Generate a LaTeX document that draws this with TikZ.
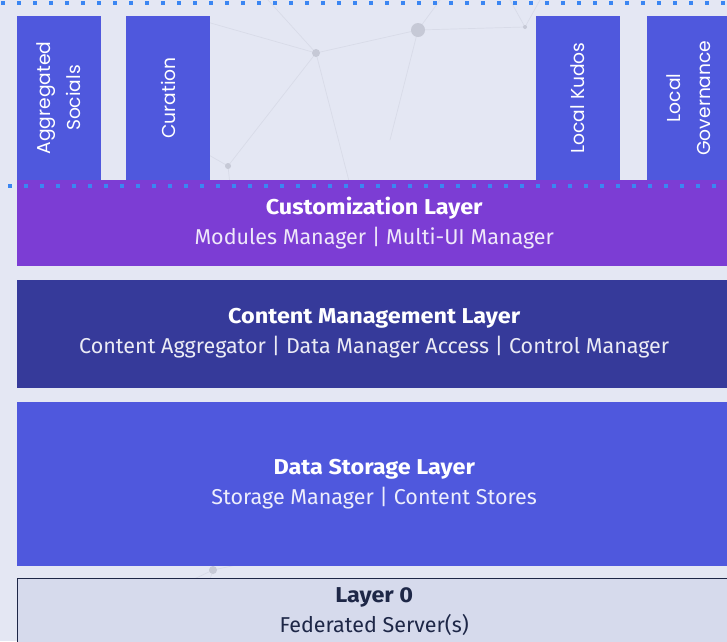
\documentclass[tikz,border=0pt]{standalone}
\usepackage{fontspec}
\setmainfont{Fira Sans}
\newfontfamily\titlefont{Fira Sans}[FakeStretch=1.09]
\newfontfamily\modulefont{Poppins}
\usetikzlibrary{positioning}
\definecolor{pagebg}{HTML}{E4E7F3}
\definecolor{netgrey}{HTML}{D8DBE8}
\definecolor{netdot}{HTML}{C6C9D6}
\definecolor{modblue}{HTML}{4F58DD}
\definecolor{custpurple}{HTML}{7C3DD4}
\definecolor{cmsnavy}{HTML}{363A9A}
\definecolor{zerofill}{HTML}{D6DAEC}
\definecolor{zeroink}{HTML}{1E2747}
\definecolor{dotblue}{HTML}{3B86F2}
\newcommand{\layertitle}[1]{{\titlefont\bfseries #1}}
\tikzset{
  layer/.style={inner sep=0pt, minimum width=714pt, align=center,
    text=white, font=\fontsize{21.5}{30}\selectfont},
  module/.style={rotate=90, fill=modblue, inner sep=0pt, minimum width=164pt,
    minimum height=84pt, align=center, text=white,
    font=\modulefont\fontsize{18.7}{30}\selectfont},
  dotline/.style={dotblue, line width=4pt, dash pattern=on 4pt off 12pt},
  net/.style={netgrey, line width=0.7pt}
}
\begin{document}
\begin{tikzpicture}[x=1pt, y=-1pt]
  \fill[pagebg] (0,0) rectangle (727,641);
  \useasboundingbox (0,0) rectangle (727,641);

  \coordinate (n1) at (418,30);
  \coordinate (n2) at (316,53);
  \coordinate (n3) at (525,27);
  \coordinate (n4) at (228,166);
  \coordinate (n5) at (213,570);
  \draw[net] (n2) -- (n1) -- (n3) (n1) -- (440,0) (n3) -- (510,0) (n3) -- (540,0)
    (n2) -- (268,0) (n2) -- (200,20) (n2) -- (n4) (n2) -- (350,185)
    (n4) -- (200,150) (n4) -- (230,185) (n1) -- (390,140)
    (n5) -- (150,600) (n5) -- (260,560) (n5) -- (190,641);
  \fill[netdot] (n1) circle (7) (n2) circle (4) (n3) circle (2)
    (n4) circle (3) (n5) circle (4);

  \node[module] (aggSocials) at (59,98) {Aggregated\\Socials};
  \node[module] (curation) at (168,98) {Curation};
  \node[module] (localKudos) at (578,98) {Local Kudos};
  \node[module] (localGov) at (689,98) {Local\\Governance};

  \node[layer, fill=custpurple, minimum height=86pt, anchor=north west] (custLayer) at (17,180)
    {\layertitle{Customization Layer}\\\color{white!88!custpurple}Modules Manager | Multi-UI Manager};
  \node[layer, fill=cmsnavy, minimum height=108pt, below=13pt of custLayer] (cmsLayer)
    {\layertitle{Content Management Layer}\\\color{white!90!cmsnavy}Content Aggregator | Data Manager Access | Control Manager};
  \node[layer, fill=modblue, minimum height=164pt, below=14pt of cmsLayer] (storageLayer)
    {\layertitle{Data Storage Layer}\\\color{white!90!modblue}Storage Manager | Content Stores};
  \node[layer, fill=zerofill, draw=zeroink, line width=1.2pt, text=zeroink,
    minimum height=66pt, below=12pt of storageLayer] (layerZero)
    {\layertitle{Layer 0}\\Federated Server(s)};

  \draw[dotline] (1,3) -- (727,3);
  \draw[dotline] (8,186) -- (727,186);
\end{tikzpicture}
\end{document}
